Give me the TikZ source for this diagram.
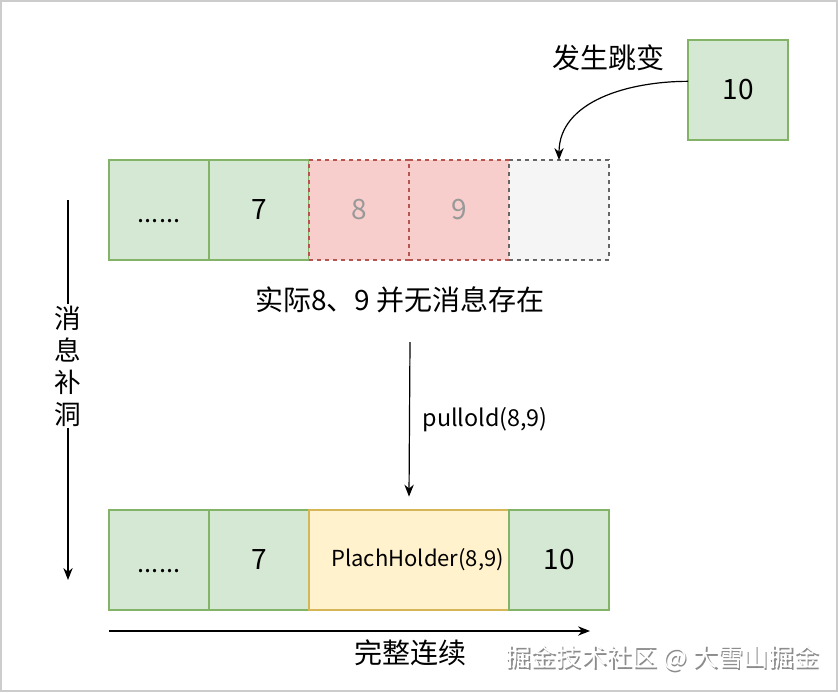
\documentclass[tikz,border=0pt]{standalone}
\usepackage{fontspec}
\setmainfont{Noto Sans CJK SC}
\usepackage{xcolor}
\definecolor{GreenFill}{HTML}{D5E8D4}
\definecolor{GreenLine}{HTML}{82B366}
\definecolor{RedFill}{HTML}{F8CECC}
\definecolor{RedLine}{HTML}{B85450}
\definecolor{GreyFill}{HTML}{F5F5F5}
\definecolor{GreyLine}{HTML}{666666}
\definecolor{YellowFill}{HTML}{FFF2CC}
\definecolor{YellowLine}{HTML}{D6B656}
\definecolor{Frame}{HTML}{CCCCCC}
\usetikzlibrary{arrows.meta,positioning}
\newcommand{\lowdots}{\smash{\raisebox{-9pt}{......}}}

\begin{document}
\begin{tikzpicture}[
  x=0.75pt, y=-0.75pt,
  font=\fontsize{21}{24}\selectfont,
  cell/.style={draw, line width=0.9pt, minimum width=75pt, minimum height=75pt,
               inner sep=0pt, outer sep=0pt},
  okcell/.style={cell, fill=GreenFill, draw=GreenLine},
  holecell/.style={cell, fill=RedFill, draw=RedLine, dashed, text=black!40},
  emptycell/.style={cell, fill=GreyFill, draw=GreyLine, dashed},
  fillcell/.style={cell, fill=YellowFill, draw=YellowLine, minimum width=150pt},
  arr/.style={-{Stealth[length=9pt,width=7pt]}, line width=0.9pt}
]
  \useasboundingbox (0,0) rectangle (838,692);
  \draw[Frame, line width=1.5pt] (1,1) rectangle (837,691);

  % row before the fill
  \node[okcell, font=\fontsize{19}{22}\selectfont] (dotsA) at (159,210) {\lowdots};
  \node[okcell, right=0pt of dotsA] (sevenA) {7};
  \node[holecell, right=0pt of sevenA] (eightA) {8};
  \node[holecell, right=0pt of eightA] (nineA) {9};
  \node[emptycell, right=0pt of nineA] (gapA) {};
  \node[okcell] (ten) at (738,90) {10};
  \node (jump) at (608,58) {发生跳变};
  \draw[arr] ([yshift=6.5pt]ten.west) to[out=180, in=90] (gapA.north);
  \node (nomsg) at (400,300) {实际8、9 并无消息存在};

  % row after the fill
  \node[okcell, font=\fontsize{19}{22}\selectfont] (dotsB) at (159,560) {\lowdots};
  \node[okcell, right=0pt of dotsB] (sevenB) {7};
  \node[fillcell, right=0pt of sevenB, font=\fontsize{16.5}{19}\selectfont]
    (holder) {\hspace*{13pt}PlachHolder(8,9)};
  \node[okcell, right=0pt of holder] (tenB) {10};

  \coordinate (pullFrom) at (410,342);
  \draw[arr] (pullFrom) -- node[right=6pt, font=\fontsize{17.5}{20}\selectfont] {pullold(8,9)}
    ([yshift=10pt]holder.north);

  % side arrows
  \coordinate (fixTop) at (68,200);
  \coordinate (fixEnd) at (68,580);
  \draw[arr] (fixTop) -- (fixEnd);
  \node[fill=white, align=center, inner sep=1pt, font=\fontsize{20}{24}\selectfont]
    (fixText) at (68,366) {消\\息\\补\\洞};

  \coordinate (seqEnd) at (590,631);
  \draw[arr] (dotsB.south west |- seqEnd) -- (seqEnd);
  \node (seqText) at (410,653) {完整连续};

  \node[text=black!45, font=\fontsize{19}{22}\selectfont] (wmShadow) at (664,659.5)
    {掘金技术社区 @ 大雪山掘金};
  \node[text=white, font=\fontsize{19}{22}\selectfont] (wm) at (662.5,658)
    {掘金技术社区 @ 大雪山掘金};
\end{tikzpicture}
\end{document}
